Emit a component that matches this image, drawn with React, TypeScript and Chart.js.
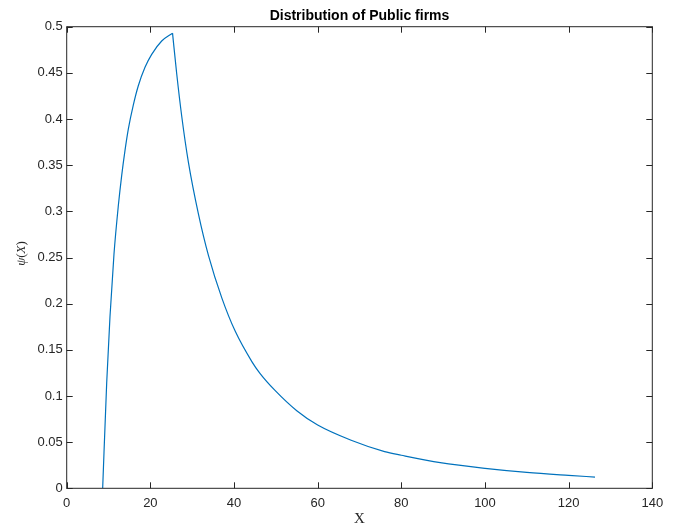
import React, { useEffect, useRef } from "react";
import { Chart, registerables } from "chart.js";

Chart.register(...registerables);

// Rising branch of psi(X)
const riseX = [8.6, 9.56, 10.35, 11.31, 12.34, 13.15, 13.94, 14.73, 15.92, 17.12, 18.72, 20.32, 22.71, 25.3];
const riseY = [0, 0.114, 0.186, 0.254, 0.306, 0.339, 0.366, 0.389, 0.415, 0.436, 0.456, 0.47, 0.4845, 0.493];
// Falling branch of psi(X)
const fallX = [25.3, 26.3, 27.5, 29.1, 31.5, 33.9, 37.1, 40.3, 44.3, 46.2, 49.8, 55, 60, 68, 76, 80, 89.3, 100, 110, 120, 126.3];
const fallY = [0.493, 0.449, 0.403, 0.353, 0.297, 0.252, 0.206, 0.17, 0.137, 0.1245, 0.106, 0.084, 0.0685, 0.052, 0.0397, 0.0358, 0.0278, 0.0216, 0.0172, 0.014, 0.0122];

const xTicksStep = 20;
const yTicksStep = 0.05;
const titleText = "Distribution of Public firms";
const xLabel = "X";

const W = 680;
const H = 531;
const AX = "#262626";
const LINE = "#0072BD";
const SANS = "'Liberation Sans', Arial, Helvetica, sans-serif";
const SERIF = "'Liberation Serif', 'DejaVu Serif', serif";

const boxPlugin = {
  id: "matlabBox",
  afterDraw(chart: any) {
    const ctx = chart.ctx;
    const a = chart.chartArea;
    const xs = chart.scales.x;
    const ys = chart.scales.y;
    ctx.save();
    ctx.strokeStyle = AX;
    ctx.lineWidth = 1;
    ctx.strokeRect(a.left, a.top, a.right - a.left, a.bottom - a.top);
    const tl = 6;
    ctx.beginPath();
    xs.ticks.forEach((t: any) => {
      const px = Math.round(xs.getPixelForValue(t.value)) + 0.5;
      ctx.moveTo(px, a.bottom);
      ctx.lineTo(px, a.bottom - tl);
      ctx.moveTo(px, a.top);
      ctx.lineTo(px, a.top + tl);
    });
    ys.ticks.forEach((t: any) => {
      const py = Math.round(ys.getPixelForValue(t.value)) + 0.5;
      ctx.moveTo(a.left, py);
      ctx.lineTo(a.left + tl, py);
      ctx.moveTo(a.right, py);
      ctx.lineTo(a.right - tl, py);
    });
    ctx.stroke();

    const cx = (a.left + a.right) / 2;
    // title
    ctx.fillStyle = "#000";
    ctx.font = "bold 14px " + SANS;
    ctx.textAlign = "center";
    ctx.textBaseline = "middle";
    ctx.fillText(titleText, cx, 16);
    // x label
    ctx.fillStyle = AX;
    ctx.font = "15px " + SERIF;
    ctx.fillText(xLabel, cx, 519);
    // y label: psi(X) rotated
    ctx.translate(21.7, (a.top + a.bottom) / 2 - 4);
    ctx.rotate(-Math.PI / 2);
    const parts = [
      { t: "ψ", f: "italic 13px " + SERIF },
      { t: "(", f: "13px " + SERIF },
      { t: "X", f: "italic 13px " + SERIF },
      { t: ")", f: "13px " + SERIF },
    ];
    let total = 0;
    parts.forEach((p) => {
      ctx.font = p.f;
      total += ctx.measureText(p.t).width;
    });
    let x = -total / 2;
    ctx.textAlign = "left";
    parts.forEach((p) => {
      ctx.font = p.f;
      ctx.fillText(p.t, x, 0);
      x += ctx.measureText(p.t).width;
    });
    ctx.restore();
  },
};

const fmt = (v: any) => String(Math.round(Number(v) * 100) / 100);

export default function App() {
  const ref = useRef<HTMLCanvasElement | null>(null);
  useEffect(() => {
    if (!ref.current) return;
    const rise = riseX.map((x, i) => ({ x, y: riseY[i] }));
    const fall = fallX.map((x, i) => ({ x, y: fallY[i] }));
    const ds = (data: any) => ({
      data,
      showLine: true,
      borderColor: LINE,
      borderWidth: 1.2,
      pointRadius: 0,
      fill: false,
      cubicInterpolationMode: "monotone" as const,
    });
    const chart = new Chart(ref.current, {
      type: "scatter",
      data: { datasets: [ds(rise), ds(fall)] },
      options: {
        animation: false,
        responsive: false,
        devicePixelRatio: 1,
        layout: { padding: { left: 0, right: 27.7, top: 26.7, bottom: 0 } },
        plugins: { legend: { display: false }, tooltip: { enabled: false }, title: { display: false } },
        scales: {
          x: {
            type: "linear",
            min: 0,
            max: 140,
            grid: { display: false, drawTicks: false },
            border: { display: false },
            ticks: {
              stepSize: xTicksStep,
              color: AX,
              padding: 7,
              maxRotation: 0,
              callback: fmt,
              font: { family: SANS, size: 13 },
            },
            afterFit: (s: any) => {
              s.height = 42.7;
            },
          },
          y: {
            type: "linear",
            min: 0,
            max: 0.5,
            grid: { display: false, drawTicks: false },
            border: { display: false },
            ticks: {
              stepSize: yTicksStep,
              color: AX,
              padding: 4,
              callback: fmt,
              font: { family: SANS, size: 13 },
            },
            afterFit: (s: any) => {
              s.width = 66.7;
            },
          },
        },
      },
      plugins: [boxPlugin],
    });
    return () => chart.destroy();
  }, []);
  return (
    <div style={{ position: "fixed", left: 0, top: 0, width: W, height: H, background: "#fff" }}>
      <canvas ref={ref} width={W} height={H} style={{ width: W, height: H, display: "block" }} />
    </div>
  );
}
